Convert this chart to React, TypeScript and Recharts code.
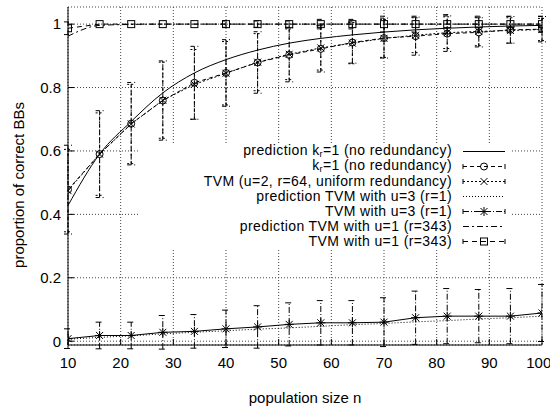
import React from 'react';
import { LineChart, Line, XAxis, YAxis, CartesianGrid, ErrorBar, Legend } from 'recharts';

const popSizes = [10, 16, 22, 28, 34, 40, 46, 52, 58, 64, 70, 76, 82, 88, 94, 100];
const xTicks = [10, 20, 30, 40, 50, 60, 70, 80, 90, 100];
const yTicks = [0, 0.2, 0.4, 0.6, 0.8, 1];

const predKr1 = [0.428, 0.59, 0.693, 0.783, 0.846, 0.888, 0.918, 0.94, 0.955, 0.966, 0.975, 0.982, 0.987, 0.991, 0.994, 0.996];
const kr1 = [0.478, 0.59, 0.686, 0.759, 0.815, 0.846, 0.879, 0.903, 0.922, 0.942, 0.956, 0.962, 0.97, 0.974, 0.982, 0.984];
const kr1Err = [0.14, 0.137, 0.13, 0.125, 0.115, 0.105, 0.097, 0.085, 0.073, 0.065, 0.063, 0.06, 0.056, 0.046, 0.042, 0.04];
const tvmU2 = [0.475, 0.59, 0.685, 0.76, 0.81, 0.845, 0.88, 0.905, 0.925, 0.94, 0.955, 0.965, 0.973, 0.977, 0.98, 0.983];
const tvmU2Err = [0.13, 0.13, 0.125, 0.12, 0.11, 0.1, 0.09, 0.08, 0.07, 0.065, 0.06, 0.055, 0.05, 0.045, 0.04, 0.035];
const predU3 = [0.006, 0.012, 0.017, 0.023, 0.028, 0.033, 0.038, 0.042, 0.047, 0.052, 0.056, 0.061, 0.065, 0.07, 0.074, 0.079];
const tvmU3 = [0.008, 0.018, 0.018, 0.028, 0.031, 0.039, 0.045, 0.053, 0.058, 0.058, 0.06, 0.074, 0.079, 0.079, 0.079, 0.089];
const tvmU3Err = [0.031, 0.042, 0.042, 0.053, 0.053, 0.059, 0.067, 0.068, 0.07, 0.07, 0.077, 0.084, 0.087, 0.084, 0.087, 0.09];
const predU1 = [0.962, 0.996, 0.999, 1, 1, 1, 1, 1, 1, 1, 1, 1, 1, 1, 1, 1];
const tvmU1 = [0.987, 1, 1, 1, 1, 1, 1, 1, 1, 1, 1, 1, 1, 1, 1, 1];
const tvmU1Err = [0.02, 0, 0, 0, 0, 0.01, 0.01, 0.01, 0.015, 0.015, 0.025, 0.025, 0.03, 0.025, 0.025, 0.025];

const rows = popSizes.map((n, i) => ({
  n,
  predKr1: predKr1[i],
  kr1: kr1[i],
  kr1Err: kr1Err[i],
  tvmU2: tvmU2[i],
  tvmU2Err: tvmU2Err[i],
  predU3: predU3[i],
  tvmU3: tvmU3[i],
  tvmU3Err: tvmU3Err[i],
  predU1: predU1[i],
  tvmU1: tvmU1[i],
  tvmU1Err: tvmU1Err[i],
}));

const FONT = '"Liberation Sans", Arial, Helvetica, sans-serif';
const FS = 15;

type Mark = 'circle' | 'cross' | 'star' | 'square' | null;

function markShape(kind: Mark, cx: number, cy: number) {
  if (kind === 'circle') return <circle cx={cx} cy={cy} r={3.5} fill="none" stroke="#000" />;
  if (kind === 'square') return <rect x={cx - 3.5} y={cy - 3.5} width={7} height={7} fill="none" stroke="#000" />;
  if (kind === 'cross')
    return (
      <path d={`M${cx - 3.5},${cy - 3.5}L${cx + 3.5},${cy + 3.5}M${cx - 3.5},${cy + 3.5}L${cx + 3.5},${cy - 3.5}`} stroke="#000" />
    );
  if (kind === 'star')
    return (
      <path
        d={`M${cx - 3.5},${cy - 3.5}L${cx + 3.5},${cy + 3.5}M${cx - 3.5},${cy + 3.5}L${cx + 3.5},${cy - 3.5}M${cx - 4.5},${cy}L${cx + 4.5},${cy}M${cx},${cy - 4.5}L${cx},${cy + 4.5}`}
        stroke="#000"
      />
    );
  return null;
}

const dotFor = (kind: Mark) => (p: any) => {
  if (p.cx == null || p.cy == null) return <g key={p.key} />;
  return <g key={p.key}>{markShape(kind, p.cx, p.cy)}</g>;
};

const Kr = () => (
  <>
    k<span style={{ fontSize: 9, position: 'relative', top: 2 }}>r</span>
  </>
);

const series = [
  { key: 'predKr1', label: <>prediction <Kr />=1 (no redundancy)</>, dash: undefined, mark: null as Mark, err: null, errDash: '', type: 'monotone' },
  { key: 'kr1', label: <><Kr />=1 (no redundancy)</>, dash: '4 3', mark: 'circle' as Mark, err: 'kr1Err', errDash: '4 3', type: 'linear' },
  { key: 'tvmU2', label: <>TVM (u=2, r=64, uniform redundancy)</>, dash: '2 2', mark: 'cross' as Mark, err: 'tvmU2Err', errDash: '2 2', type: 'linear' },
  { key: 'predU3', label: <>prediction TVM with u=3 (r=1)</>, dash: '1 2', mark: null as Mark, err: null, errDash: '', type: 'monotone' },
  { key: 'tvmU3', label: <>TVM with u=3 (r=1)</>, dash: undefined, mark: 'star' as Mark, err: 'tvmU3Err', errDash: '6 2 1 2', type: 'linear' },
  { key: 'predU1', label: <>prediction TVM with u=1 (r=343)</>, dash: '6 3 2 3', mark: null as Mark, err: null, errDash: '', type: 'monotone' },
  { key: 'tvmU1', label: <>TVM with u=1 (r=343)</>, dash: '5 4', mark: 'square' as Mark, err: 'tvmU1Err', errDash: '5 4', type: 'linear' },
];

function KeyBox() {
  return (
    <div style={{ background: '#fff', width: 374, height: 106, paddingTop: 1, boxSizing: 'border-box', fontFamily: FONT, fontSize: 14, letterSpacing: 0.4, color: '#000' }}>
      {series.map((s) => (
        <div key={s.key} style={{ display: 'flex', alignItems: 'center', height: 15 }}>
          <span style={{ width: 314, textAlign: 'right', whiteSpace: 'nowrap', lineHeight: '15px' }}>{s.label}</span>
          <svg width={45} height={15} style={{ marginLeft: 10, display: 'block' }}>
            <line x1={1} y1={7.5} x2={43} y2={7.5} stroke="#000" strokeDasharray={s.err ? s.errDash : s.dash} />
            {s.err && <line x1={1} y1={5} x2={1} y2={10} stroke="#000" />}
            {s.err && <line x1={43} y1={5} x2={43} y2={10} stroke="#000" />}
            {markShape(s.mark, 22, 7.5)}
          </svg>
        </div>
      ))}
    </div>
  );
}

export default function App() {
  return (
    <div style={{ position: 'absolute', left: 0, top: 0, width: 550, height: 407, background: '#fff' }}>
      <LineChart width={550} height={407} data={rows} margin={{ top: 7, right: 8, left: 0, bottom: 0 }} style={{ fontFamily: FONT }}>
        <CartesianGrid stroke="#444" strokeDasharray="1 2" />
        <XAxis
          dataKey="n"
          type="number"
          domain={[10, 100]}
          ticks={xTicks}
          allowDataOverflow
          height={62}
          tickSize={-6}
          tickMargin={18}
          stroke="#000"
          tick={{ fill: '#000', fontSize: FS }}
          label={{ value: 'population size n', position: 'insideBottom', offset: 4, fill: '#000', fontSize: FS }}
        />
        <XAxis xAxisId="top" orientation="top" type="number" domain={[10, 100]} ticks={xTicks} height={0} tickSize={-6} tick={false} stroke="#000" />
        <YAxis
          type="number"
          domain={[-0.012, 1.054]}
          ticks={yTicks}
          allowDataOverflow
          width={68}
          tickSize={-6}
          tickMargin={13}
          stroke="#000"
          tick={{ fill: '#000', fontSize: FS }}
          label={(props: any) => {
            const vb = props.viewBox;
            const cy = vb.y + vb.height / 2 + 9;
            return (
              <text x={18} y={cy} transform={`rotate(-90 18 ${cy})`} textAnchor="middle" dominantBaseline="central" fontSize={FS} fill="#000">
                proportion of correct BBs
              </text>
            );
          }}
        />
        <YAxis yAxisId="right" orientation="right" type="number" domain={[-0.012, 1.054]} ticks={yTicks} width={0} tickSize={-6} tick={false} stroke="#000" />
        {series.map((s) => (
          <Line
            key={s.key}
            dataKey={s.key}
            type={s.type as any}
            stroke="#000"
            strokeWidth={1}
            strokeDasharray={s.dash}
            dot={s.mark ? dotFor(s.mark) : false}
            activeDot={false}
            isAnimationActive={false}
          >
            {s.err && <ErrorBar dataKey={s.err} direction="y" width={4} stroke="#000" strokeWidth={1} strokeDasharray={s.errDash} />}
          </Line>
        ))}
        <Legend
          layout="horizontal"
          verticalAlign="middle"
          align="center"
          content={() => <KeyBox />}
          wrapperStyle={{ left: 138, top: 143, width: 374, height: 106 }}
        />
      </LineChart>
    </div>
  );
}
